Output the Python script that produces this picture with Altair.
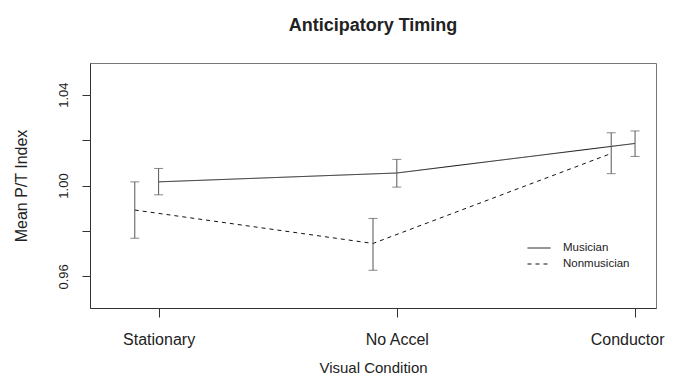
import altair as alt
import pandas as pd

conditions = ["Stationary", "No Accel", "Conductor"]
musician_mean = [1.0016, 1.0055, 1.0185]
musician_lo = [0.9959, 0.9993, 1.0128]
musician_hi = [1.0075, 1.0115, 1.0240]
nonmusician_mean = [0.9892, 0.9745, 1.0141]
nonmusician_lo = [0.9768, 0.9627, 1.0052]
nonmusician_hi = [1.0016, 0.9855, 1.0232]
groups = ["Musician", "Nonmusician"]

rows = []
for i, c in enumerate(conditions):
    rows.append(dict(cond=c, idx=i + 1, group="Musician", mean=musician_mean[i],
                     lo=musician_lo[i], hi=musician_hi[i]))
for i, c in enumerate(conditions):
    rows.append(dict(cond=c, idx=i + 1, group="Nonmusician", mean=nonmusician_mean[i],
                     lo=nonmusician_lo[i], hi=nonmusician_hi[i]))
df = pd.DataFrame(rows)

FONT = "Liberation Sans"

xscale = alt.Scale(domain=[0.712, 3.088], nice=False, zero=False)
yscale = alt.Scale(domain=[0.9461, 1.0539], nice=False, zero=False)

base = alt.Chart(df).transform_calculate(
    xpos="datum.idx - (datum.group == 'Nonmusician' ? 0.1 : 0)"
)

xaxis = alt.Axis(
    values=[1, 2, 3], title="Visual Condition",
    labelExpr="['Stationary','No Accel','Conductor'][datum.value - 1]",
    grid=False, tickSize=9, labelPadding=14, labelFontSize=16, titleFontSize=15,
    titlePadding=13, domainColor="#333", tickColor="#333", labelColor="#222",
    titleColor="#222", titleFontWeight="normal", labelFont=FONT, titleFont=FONT,
    labelFlush=25, labelFlushOffset=29,
)
yaxis = alt.Axis(
    values=[0.96, 0.98, 1.00, 1.02, 1.04], title="Mean P/T Index",
    labelExpr="(abs(datum.value - 0.98) < 0.001 || abs(datum.value - 1.02) < 0.001) ? '' : format(datum.value, '.2f')",
    grid=False, tickSize=8, labelAngle=-90, labelPadding=12, labelFontSize=13,
    titleFontSize=16, titlePadding=28, domainColor="#333", tickColor="#333",
    labelColor="#222", titleColor="#222", titleFontWeight="normal",
    labelFont=FONT, titleFont=FONT,
)

lines = base.mark_line(color="#111", strokeWidth=1).encode(
    x=alt.X("xpos:Q", scale=xscale, axis=xaxis),
    y=alt.Y("mean:Q", scale=yscale, axis=yaxis),
    strokeDash=alt.StrokeDash(
        "group:N",
        scale=alt.Scale(domain=groups, range=[[1, 0], [4, 4]]),
        legend=alt.Legend(
            title=None, orient="none", legendX=437, legendY=177,
            symbolType="stroke", symbolSize=529, symbolStrokeWidth=1,
            symbolStrokeColor="#111", labelFontSize=11.5, labelFont=FONT,
            labelColor="#222", labelOffset=12, rowPadding=0, padding=0,
            clipHeight=16,
        ),
    ),
    detail="group:N",
)

bars = base.mark_rule(color="#555", strokeWidth=1).encode(
    x="xpos:Q", y="lo:Q", y2="hi:Q",
)
caps_lo = base.mark_tick(color="#555", thickness=1, size=9, orient="horizontal").encode(
    x="xpos:Q", y="lo:Q",
)
caps_hi = base.mark_tick(color="#555", thickness=1, size=9, orient="horizontal").encode(
    x="xpos:Q", y="hi:Q",
)

chart = alt.layer(lines, bars, caps_lo, caps_hi).properties(
    width=566, height=245,
    title=alt.Title("Anticipatory Timing", fontSize=18, fontWeight="bold",
                    font=FONT, color="#222", offset=28, anchor="middle"),
    autosize=alt.AutoSizeParams(type="none"),
    padding={"left": 82, "top": 55, "right": 9, "bottom": 70},
).configure_view(stroke="#777", strokeWidth=1)

chart.save("out.html", embed_options={"renderer": "svg", "actions": False})
